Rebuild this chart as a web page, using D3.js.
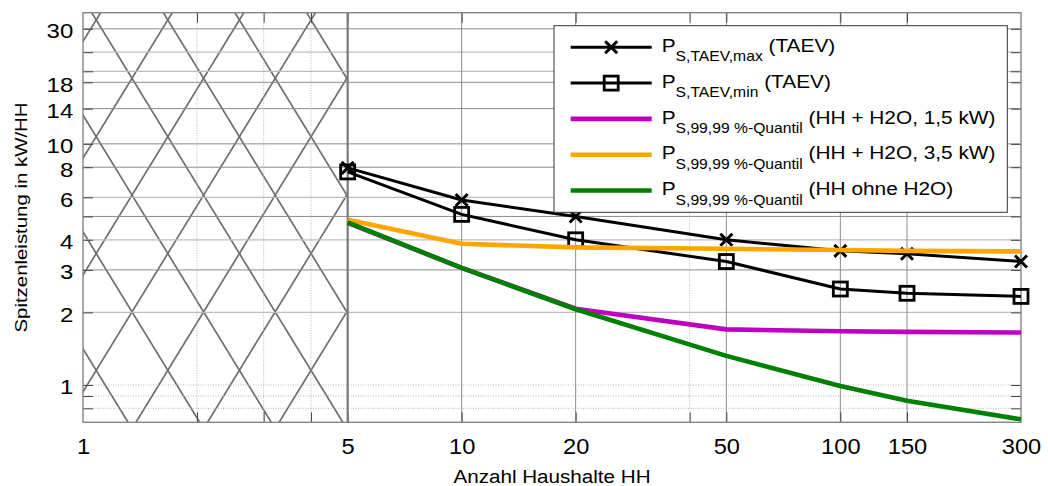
<!DOCTYPE html>
<html>
<head>
<meta charset="utf-8">
<script src="https://cdn.jsdelivr.net/npm/d3@7"></script>
<style>
  html, body { margin: 0; padding: 0; background: #fff; }
  svg { display: block; font-family: "Liberation Sans", Arial, sans-serif; }
</style>
</head>
<body>
<svg id="chart" width="1048" height="486"></svg>
<script>
// Number of households (x) and peak power per household in kW/HH (y)
const households = [5, 10, 20, 50, 100, 150, 300];
const pTaevMax   = [7.95, 5.85, 5.0, 4.0, 3.6, 3.5, 3.25];
const pTaevMin   = [7.65, 5.1, 4.0, 3.25, 2.5, 2.4, 2.33];
const pQ15kW     = [4.7, 3.06, 2.07, 1.70, 1.67, 1.66, 1.65];
const pQ35kW     = [4.85, 3.85, 3.72, 3.67, 3.63, 3.60, 3.58];
const pQnoH2O    = [4.72, 3.06, 2.06, 1.32, 0.99, 0.86, 0.72];

const xTickLabels = [1, 5, 10, 20, 50, 100, 150, 300];
const xGridSolid  = [10, 20, 50, 100, 150];
const xGridDotted = [2, 3, 4, 40];
const yTickLabels = [1, 2, 3, 4, 6, 8, 10, 14, 18, 30];
const yGridDark   = [30, 18, 14, 10, 8, 5, 3];
const yGridLight  = [24, 20, 6, 4, 2];
const yGridDotted = [1, 0.9, 0.8];
const excludedRange = [1, 5];

const series = [
  { values: pTaevMax, color: "#000", width: 3,   marker: "cross",  main: "P", sub: "S,TAEV,max", rest: " (TAEV)" },
  { values: pTaevMin, color: "#000", width: 3,   marker: "square", main: "P", sub: "S,TAEV,min", rest: " (TAEV)" },
  { values: pQ15kW,   color: "#c000c0", width: 4.6, marker: null, main: "P", sub: "S,99,99 %-Quantil", rest: " (HH + H2O, 1,5 kW)" },
  { values: pQ35kW,   color: "#ffa500", width: 4.6, marker: null, main: "P", sub: "S,99,99 %-Quantil", rest: " (HH + H2O, 3,5 kW)" },
  { values: pQnoH2O,  color: "#008000", width: 4.6, marker: null, main: "P", sub: "S,99,99 %-Quantil", rest: " (HH ohne H2O)" }
];

const pL = 83, pR = 1021, pT = 12.7, pB = 422.3;
const x = d3.scaleLog().domain([1, 300]).range([pL, pR]);
const y = d3.scaleLog().domain([0.7, 35]).range([pB, pT]);

const svg = d3.select("#chart");
svg.append("rect").attr("width", 1048).attr("height", 486).attr("fill", "#fff");

// Cross-hatched area for the range below 5 households
const defs = svg.append("defs");
defs.append("clipPath").attr("id", "hatchClip")
  .append("rect")
  .attr("x", x(excludedRange[0])).attr("y", pT)
  .attr("width", x(excludedRange[1]) - x(excludedRange[0]))
  .attr("height", pB - pT);

const hatch = svg.append("g").attr("clip-path", "url(#hatchClip)");
const stepX = 71.6, stepY = 116.8, cx0 = 132, cy0 = 78.3;
const slope = (stepX / 2) / (stepY / 2);
for (let k = -8; k <= 8; k++) {
  const xc = cx0 + k * stepX;
  const y1 = pT - 20, y2 = pB + 20;
  hatch.append("line")
    .attr("x1", xc + (y1 - cy0) * slope).attr("y1", y1)
    .attr("x2", xc + (y2 - cy0) * slope).attr("y2", y2)
    .attr("stroke", "#6e6e6e").attr("stroke-width", 1.7);
  hatch.append("line")
    .attr("x1", xc - (y1 - cy0) * slope).attr("y1", y1)
    .attr("x2", xc - (y2 - cy0) * slope).attr("y2", y2)
    .attr("stroke", "#6e6e6e").attr("stroke-width", 1.7);
}

// Grid
const grid = svg.append("g");
grid.selectAll(".hd").data(yGridDark).join("line")
  .attr("x1", pL).attr("x2", pR).attr("y1", d => y(d)).attr("y2", d => y(d))
  .attr("stroke", "#8c8c8c").attr("stroke-width", 1);
grid.selectAll(".hl").data(yGridLight).join("line")
  .attr("x1", pL).attr("x2", pR).attr("y1", d => y(d)).attr("y2", d => y(d))
  .attr("stroke", "#bdbdbd").attr("stroke-width", 1.3);
grid.selectAll(".hdot").data(yGridDotted).join("line")
  .attr("x1", pL).attr("x2", pR).attr("y1", d => y(d)).attr("y2", d => y(d))
  .attr("stroke", "#b5b5b5").attr("stroke-width", 1).attr("stroke-dasharray", "1,1.5");
grid.selectAll(".vs").data(xGridSolid).join("line")
  .attr("x1", d => x(d)).attr("x2", d => x(d)).attr("y1", pT).attr("y2", pB)
  .attr("stroke", "#8c8c8c").attr("stroke-width", 1);
grid.selectAll(".vdot").data(xGridDotted).join("line")
  .attr("x1", d => x(d)).attr("x2", d => x(d)).attr("y1", pT).attr("y2", pB)
  .attr("stroke", "#b5b5b5").attr("stroke-width", 1).attr("stroke-dasharray", "1,1.5");

// Inward tick marks on all four sides
const yTickAll = yGridDark.concat(yGridLight, yGridDotted);
const xTickAll = xGridSolid.concat(xGridDotted, [5]);
const tickStyle = g => { g.select(".domain").remove(); g.selectAll("line").attr("stroke", "#444"); };
svg.append("g").attr("transform", `translate(${pL},0)`)
  .call(d3.axisRight(y).tickValues(yTickAll).tickSize(10).tickFormat("")).call(tickStyle);
svg.append("g").attr("transform", `translate(${pR},0)`)
  .call(d3.axisLeft(y).tickValues(yTickAll).tickSize(10).tickFormat("")).call(tickStyle);
svg.append("g").attr("transform", `translate(0,${pB})`)
  .call(d3.axisTop(x).tickValues(xTickAll).tickSize(10).tickFormat("")).call(tickStyle);
svg.append("g").attr("transform", `translate(0,${pT})`)
  .call(d3.axisBottom(x).tickValues(xTickAll).tickSize(10).tickFormat("")).call(tickStyle);

// Tick labels
const yAxis = svg.append("g").attr("transform", `translate(${pL},0)`)
  .call(d3.axisLeft(y).tickValues(yTickLabels).tickSize(0).tickPadding(8.1).tickFormat(d3.format("d")));
yAxis.select(".domain").remove();
yAxis.selectAll("text").attr("font-size", 20).attr("fill", "#000")
  .attr("font-family", "Liberation Sans, Arial, sans-serif")
  .attr("dy", "0.45em").attr("transform", "scale(1.2,1)");

const xAxis = svg.append("g").attr("transform", `translate(0,${pB})`)
  .call(d3.axisBottom(x).tickValues(xTickLabels).tickSize(0).tickPadding(0).tickFormat(d3.format("d")));
xAxis.select(".domain").remove();
xAxis.selectAll("text").attr("font-size", 21.5).attr("fill", "#000")
  .attr("font-family", "Liberation Sans, Arial, sans-serif")
  .attr("y", 31.7).attr("dy", 0).attr("transform", "scale(1.1,1)");

// Frame and boundary at 5 households
svg.append("rect").attr("x", pL).attr("y", pT)
  .attr("width", pR - pL).attr("height", pB - pT)
  .attr("fill", "none").attr("stroke", "#858585").attr("stroke-width", 1.4);
svg.append("line")
  .attr("x1", x(excludedRange[1])).attr("x2", x(excludedRange[1]))
  .attr("y1", pT).attr("y2", pB)
  .attr("stroke", "#7a7a7a").attr("stroke-width", 2.2);

// Axis titles
svg.append("text")
  .attr("transform", `translate(${(pL + pR) / 2},483.3) scale(1.11,1)`)
  .attr("text-anchor", "middle").attr("font-size", 18.6).attr("fill", "#000")
  .text("Anzahl Haushalte HH");
svg.append("text")
  .attr("transform", `translate(26.5,${(pT + pB) / 2}) rotate(-90) scale(1.2,1)`)
  .attr("text-anchor", "middle").attr("font-size", 17).attr("fill", "#000")
  .text("Spitzenleistung in kW/HH");

// Series
const line = d3.line().x(d => x(d.n)).y(d => y(d.v));
const crossPath = "M-6,-6L6,6M-6,6L6,-6";
series.forEach(s => {
  const pts = households.map((n, i) => ({ n, v: s.values[i] }));
  const g = svg.append("g");
  g.append("path").datum(pts).attr("d", line)
    .attr("fill", "none").attr("stroke", s.color).attr("stroke-width", s.width)
    .attr("stroke-linejoin", "round");
  if (s.marker === "cross") {
    g.selectAll("path.m").data(pts).join("path").attr("class", "m")
      .attr("transform", d => `translate(${x(d.n)},${y(d.v)})`)
      .attr("d", crossPath).attr("stroke", "#000").attr("stroke-width", 3).attr("fill", "none");
  } else if (s.marker === "square") {
    g.selectAll("rect.m").data(pts).join("rect").attr("class", "m")
      .attr("x", d => x(d.n) - 7).attr("y", d => y(d.v) - 7)
      .attr("width", 14).attr("height", 14)
      .attr("stroke", "#000").attr("stroke-width", 2.8).attr("fill", "none");
  }
});

// Legend
const lg = svg.append("g");
lg.append("rect").attr("x", 554).attr("y", 25.7).attr("width", 453.3).attr("height", 186.6)
  .attr("fill", "#fff").attr("stroke", "#333").attr("stroke-width", 1);
series.forEach((s, i) => {
  const ly = 47.3 + i * 35.8;
  lg.append("line").attr("x1", 570.7).attr("x2", 651.7).attr("y1", ly).attr("y2", ly)
    .attr("stroke", s.color).attr("stroke-width", s.width);
  if (s.marker === "cross") {
    lg.append("path").attr("transform", `translate(611.2,${ly})`).attr("d", crossPath)
      .attr("stroke", "#000").attr("stroke-width", 3).attr("fill", "none");
  } else if (s.marker === "square") {
    lg.append("rect").attr("x", 611.2 - 7).attr("y", ly - 7).attr("width", 14).attr("height", 14)
      .attr("stroke", "#000").attr("stroke-width", 2.8).attr("fill", "none");
  }
  const t = lg.append("text")
    .attr("transform", `translate(661.7,${ly + 4.6}) scale(1.12,1)`)
    .attr("font-size", 18.6).attr("fill", "#000");
  t.append("tspan").text(s.main);
  t.append("tspan").attr("font-size", 14).attr("dy", 9.5).text(s.sub);
  t.append("tspan").attr("dy", -9.5).text(s.rest);
});
</script>
</body>
</html>
